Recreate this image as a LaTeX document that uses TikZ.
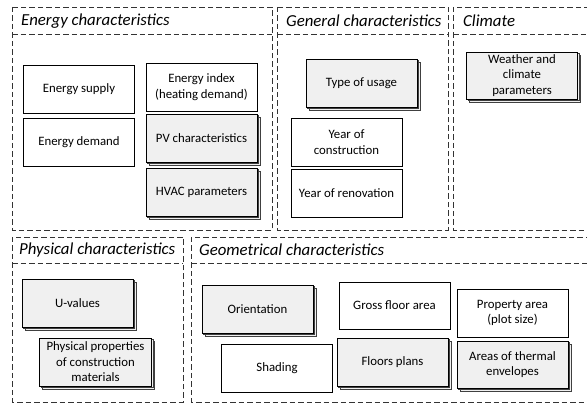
\documentclass[tikz,border=0pt]{standalone}
\usepackage{fontspec}
\setmainfont{Carlito}
\usetikzlibrary{shadows}
\begin{document}
\begin{tikzpicture}[x=1pt,y=-1pt,
  panel/.style={draw=black!80, line width=0.9pt, dash pattern=on 5.5pt off 3pt},
  paneltitle/.style={anchor=west, inner sep=0pt, font=\fontsize{16.8}{20}\selectfont\itshape},
  plainbox/.style={draw=black, line width=0.8pt, fill=white, minimum width=111pt, minimum height=48pt,
    inner sep=1pt, align=center, font=\fontsize{12.8}{15.5}\selectfont},
  stackbox/.style={plainbox, fill=black!6,
    general shadow={shadow xshift=3pt, shadow yshift=-3pt, fill=black!6, draw=black!75, line width=0.6pt},
    general shadow={shadow xshift=1.5pt, shadow yshift=-1.5pt, fill=black!6, draw=black!75, line width=0.6pt}}
]
\useasboundingbox (0,0) rectangle (587,403);
% panels
\draw[panel] (12,7) rectangle (272,230);
\draw[panel] (12,34) -- (272,34);
\node[paneltitle] (tEnergy) at (21,21) {Energy characteristics};
\draw[panel] (277,7) rectangle (448,230);
\draw[panel] (277,34) -- (448,34);
\node[paneltitle] (tGeneral) at (286,21) {General characteristics};
\draw[panel] (453,7) rectangle (600,230);
\draw[panel] (453,34) -- (600,34);
\node[paneltitle] (tClimate) at (463,21) {Climate};
\draw[panel] (12,237) rectangle (183,402);
\draw[panel] (12,263) -- (183,263);
\node[paneltitle] (tPhysical) at (19,250) {Physical characteristics};
\draw[panel] (191,237) rectangle (600,402);
\draw[panel] (191,263) -- (600,263);
\node[paneltitle] (tGeom) at (199,250) {Geometrical characteristics};
% energy
\node[plainbox] (supply) at (79,89) {Energy supply};
\node[plainbox] (demand) at (79,142) {Energy demand};
\node[plainbox] (index) at (201.5,87) {Energy index\\(heating demand)};
\node[stackbox] (pv) at (201.5,138) {PV characteristics};
\node[stackbox] (hvac) at (201.5,192) {HVAC parameters};
% general
\node[stackbox] (usage) at (361.5,83) {Type of usage};
\node[plainbox] (construction) at (346.5,142) {Year of\\construction};
\node[plainbox] (renovation) at (346.5,193) {Year of renovation};
% climate
\node[stackbox, minimum height=47pt] (weather) at (522,75.5) {Weather and\\climate\\parameters};
% physical
\node[stackbox] (uvalues) at (77.5,303) {U-values};
\node[stackbox, minimum width=112pt] (physprop) at (95.5,362) {Physical properties\\of construction\\materials};
% geometrical
\node[stackbox] (orientation) at (257.5,309) {Orientation};
\node[plainbox] (shading) at (277,368) {Shading};
\node[plainbox, minimum height=47pt] (gross) at (394.5,305.5) {Gross floor area};
\node[stackbox] (floors) at (392.5,362) {Floors plans};
\node[plainbox] (property) at (512.5,313) {Property area\\(plot size)};
\node[stackbox, minimum height=47pt] (areas) at (512.5,364.5) {Areas of thermal\\envelopes};
\end{tikzpicture}
\end{document}
